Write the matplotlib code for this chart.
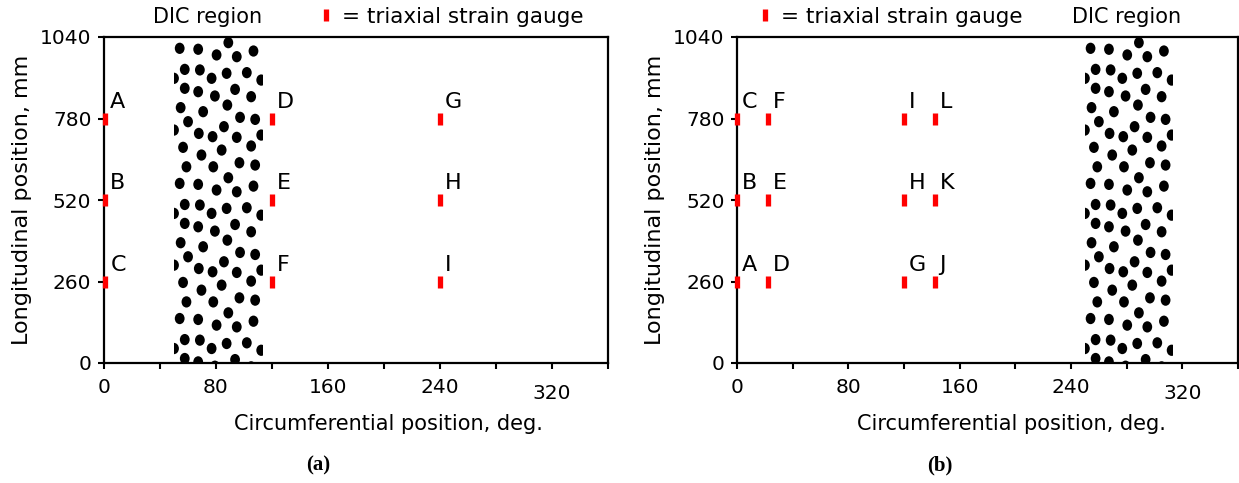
from matplotlib import pyplot as plt
from matplotlib.patches import Ellipse, Rectangle
from matplotlib.collections import PatchCollection
from matplotlib.lines import Line2D

# axis ticks
x_ticks = [0, 40, 80, 120, 160, 200, 240, 280, 320, 360]
x_tick_labels = ['0', '', '80', '', '160', '', '240', '', '320', '']
y_ticks = [0, 260, 520, 780, 1040]

# panel (a): gauges and DIC band (deg)
gauge_a_x = [1, 1, 1, 120, 120, 120, 240, 240, 240]
gauge_a_y = [780, 520, 260, 780, 520, 260, 780, 520, 260]
gauge_a_name = ['A', 'B', 'C', 'D', 'E', 'F', 'G', 'H', 'I']
dic_a = [50, 113.5]

# panel (b)
gauge_b_x = [0, 0, 0, 22, 22, 22, 120, 120, 120, 142, 142, 142]
gauge_b_y = [260, 520, 780, 260, 520, 780, 260, 520, 780, 260, 520, 780]
gauge_b_name = ['A', 'B', 'C', 'D', 'E', 'F', 'G', 'H', 'I', 'J', 'K', 'L']
dic_b = [250, 313.5]

# speckle tile: u = fraction of band width, v = fraction of repeat period
tile_u = [0.064, 0.272, 0.479, 0.611, 0.706, 0.894, 0.121, 0.291, 0.423, 0.592,
          0.819, 0.981, 0.0, 0.121, 0.272, 0.460, 0.687, 0.868, 0.075, 0.328,
          0.600, 0.158, 0.743, 0.913, 0.0, 0.279, 0.434, 0.562, 0.706, 0.981,
          0.102, 0.309, 0.536, 0.868, 0.140, 0.442, 0.736, 0.913]
tile_v = [0.042, 0.049, 0.091, 0.0, 0.104, 0.062, 0.198, 0.202, 0.264, 0.227,
          0.222, 0.277, 0.264, 0.338, 0.363, 0.395, 0.346, 0.400, 0.481, 0.511,
          0.462, 0.585, 0.553, 0.568, 0.647, 0.672, 0.696, 0.622, 0.701, 0.684,
          0.775, 0.832, 0.795, 0.765, 0.919, 0.919, 0.889, 0.906]
period = 431.0
phase = 1022.0

red = '#ff0000'
W, H = 1239, 483


def speckle(ax, band):
    x0, x1 = band
    w = x1 - x0
    dots = []
    for k in range(-1, 4):
        for u, v in zip(tile_u, tile_v):
            dots.append(Ellipse((x0 + u * w, phase - (v + k) * period), 7.0, 36))
    pc = PatchCollection(dots, facecolor='black', edgecolor='none', zorder=2)
    ax.add_collection(pc, autolim=False)
    pc.set_clip_path(Rectangle((x0, 0), w, 1040, transform=ax.transData))


def panel(ax, gx, gy, names, band, xlab_x):
    speckle(ax, band)
    ax.plot(gx, gy, ls='none', marker='|', ms=9, mew=3.8, color=red,
            clip_on=False, zorder=5)
    for x, y, n in zip(gx, gy, names):
        ax.annotate(n, (x, y), xytext=(3.5, 5), textcoords='offset points',
                    fontsize=16, ha='left', va='bottom')
    ax.set_xlim(0, 360)
    ax.set_ylim(0, 1040)
    ax.set_xticks(x_ticks)
    ax.set_xticklabels(x_tick_labels)
    ax.set_yticks(y_ticks)
    ax.tick_params(direction='out', length=4, width=1.5, labelsize=14.5)
    ax.tick_params(axis='x', pad=7)
    ax.tick_params(axis='y', pad=5)
    ax.xaxis.get_major_ticks()[8].set_pad(11)
    for s in ax.spines.values():
        s.set_linewidth(1.6)
    ax.set_xlabel('Circumferential position, deg.', fontsize=15)
    ax.xaxis.set_label_coords(xlab_x, -0.155)
    ax.set_ylabel('Longitudinal position, mm', fontsize=16, labelpad=6)


fig = plt.figure(figsize=(12.39, 4.83), dpi=100)
ax1 = fig.add_axes([104 / W, 1 - 363 / H, 504 / W, 326 / H])
ax2 = fig.add_axes([737 / W, 1 - 363 / H, 501 / W, 326 / H])

panel(ax1, gauge_a_x, gauge_a_y, gauge_a_name, dic_a, 0.565)
panel(ax2, gauge_b_x, gauge_b_y, gauge_b_name, dic_b, 0.547)

fig.text(208 / W, 1 - 17 / H, 'DIC region', fontsize=15, ha='center', va='center')
fig.text(1127 / W, 1 - 17 / H, 'DIC region', fontsize=15, ha='center', va='center')

gauge_handle = Line2D([], [], ls='none', marker='|', ms=9, mew=3.8, color=red)
for ax, x in [(ax1, 320), (ax2, 759)]:
    ax.legend([gauge_handle], ['= triaxial strain gauge'], loc='center left',
              bbox_to_anchor=(x / W, 1 - 17 / H), bbox_transform=fig.transFigure,
              frameon=False, fontsize=15.5, handlelength=0.6, handletextpad=0.4,
              borderpad=0, borderaxespad=0)

fig.text(318 / W, 1 - 465 / H, '(a)', fontsize=15, fontweight='bold',
         family='Liberation Serif', ha='center', va='center')
fig.text(940 / W, 1 - 465 / H, '(b)', fontsize=15, fontweight='bold',
         family='Liberation Serif', ha='center', va='center')

plt.savefig('out.png', dpi=100)
